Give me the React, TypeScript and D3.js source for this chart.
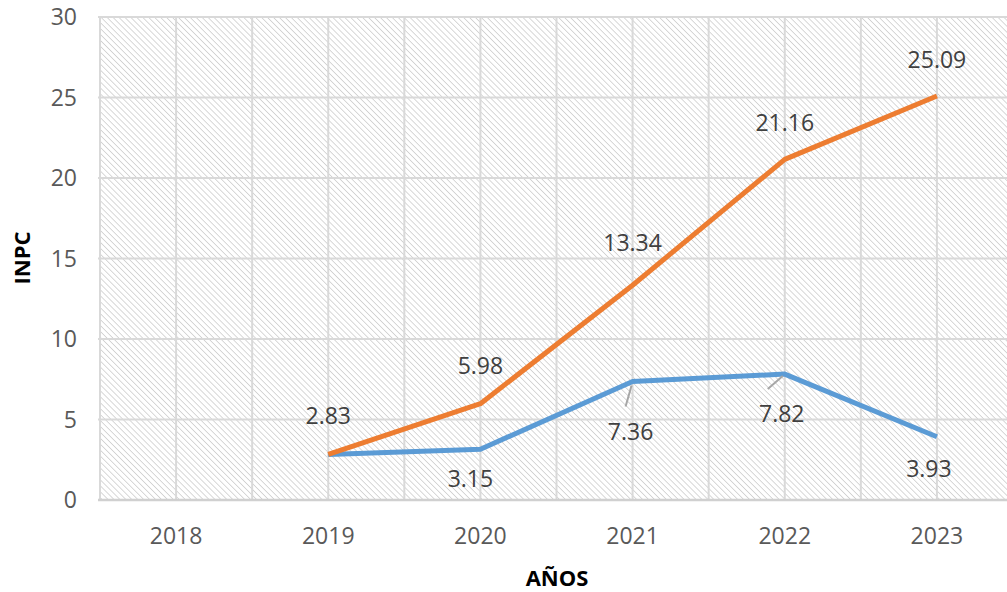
import * as d3 from "d3";

const years = ["2018", "2019", "2020", "2021", "2022", "2023"];
const orangeYears = ["2019", "2020", "2021", "2022", "2023"];
const orangeValues = [2.83, 5.98, 13.34, 21.16, 25.09];
const blueYears = ["2019", "2020", "2021", "2022", "2023"];
const blueValues = [2.83, 3.15, 7.36, 7.82, 3.93];
const yTicks = [0, 5, 10, 15, 20, 25, 30];

const W = 1007;
const H = 592;
const FONT = "'Open Sans', 'Liberation Sans', sans-serif";
const TEXT = "#595959";

export default function App() {
  const x = d3.scaleBand<string>().domain(years).range([100, 1013]);
  const cx = (d: string) => (x(d) ?? 0) + x.bandwidth() / 2;
  const y = d3.scaleLinear().domain([0, 30]).range([500, 17]);

  const line = d3
    .line<[string, number]>()
    .x((d) => cx(d[0]))
    .y((d) => y(d[1]));

  const orange = orangeYears.map((d, i) => [d, orangeValues[i]] as [string, number]);
  const blue = blueYears.map((d, i) => [d, blueValues[i]] as [string, number]);

  const vLines: number[] = [];
  years.forEach((d) => {
    vLines.push(x(d) ?? 0);
    vLines.push(cx(d));
  });
  vLines.push(x.range()[1]);

  // label offsets (dx, dy from the point)
  const orangeOff = [
    [0, -38],
    [0, -38],
    [0, -42],
    [0, -36],
    [0, -36],
  ];
  const blueOff: [number, number][] = [
    [0, 0],
    [-10, 30],
    [-2, 50],
    [-3, 40],
    [-8, 32],
  ];

  return (
    <svg
      width={W}
      height={H}
      style={{ position: "absolute", left: 0, top: 0, background: "#fff" }}
      fontFamily={FONT}
    >
      <defs>
        <pattern
          id="hatch"
          width={4.2}
          height={4.2}
          patternUnits="userSpaceOnUse"
          patternTransform="rotate(-45)"
        >
          <line x1={0} y1={0} x2={0} y2={4.2} stroke="#c4c4c4" strokeWidth={1.3} />
        </pattern>
      </defs>
      <rect x={100} y={y(30)} width={913} height={y(0) - y(30)} fill="url(#hatch)" />

      {yTicks.map((t) => (
        <line key={"h" + t} x1={98} x2={1013} y1={y(t)} y2={y(t)} stroke="#d9d9d9" strokeWidth={2} />
      ))}
      {vLines.map((v, i) => (
        <line key={"v" + i} x1={v} x2={v} y1={y(30)} y2={y(0)} stroke="#d9d9d9" strokeWidth={2} />
      ))}
      <line x1={98} x2={1013} y1={y(0)} y2={y(0)} stroke="#d0d0d0" strokeWidth={2.5} />

      {yTicks.map((t) => (
        <text key={"yt" + t} x={77} y={y(t)} dy="0.35em" textAnchor="end" fontSize={23} fill={TEXT}>
          {t}
        </text>
      ))}
      {years.map((d) => (
        <text key={"xt" + d} x={cx(d)} y={544} textAnchor="middle" fontSize={23} fill={TEXT}>
          {d}
        </text>
      ))}

      <text x={557} y={586} textAnchor="middle" fontSize={22} fontWeight="bold" fill="#000">
        AÑOS
      </text>
      <text
        transform={`translate(30,258) rotate(-90)`}
        textAnchor="middle"
        fontSize={22}
        fontWeight="bold"
        fill="#000"
      >
        INPC
      </text>

      <path d={line(blue) ?? ""} fill="none" stroke="#5b9bd5" strokeWidth={5} strokeLinejoin="round" />
      <path d={line(orange) ?? ""} fill="none" stroke="#ed7d31" strokeWidth={5} strokeLinejoin="round" />

      {/* leader lines */}
      <line x1={cx("2021") - 1} y1={y(7.36) + 4} x2={cx("2021") - 7} y2={y(7.36) + 25} stroke="#a6a6a6" strokeWidth={2} />
      <line x1={cx("2022") - 2} y1={y(7.82) + 2} x2={cx("2022") - 17} y2={y(7.82) + 15} stroke="#a6a6a6" strokeWidth={2} />

      {orange.map((d, i) => (
        <text
          key={"ol" + i}
          x={cx(d[0]) + orangeOff[i][0]}
          y={y(d[1]) + orangeOff[i][1]}
          dy="0.35em"
          textAnchor="middle"
          fontSize={23}
          fill="#404040"
        >
          {d[1].toFixed(2)}
        </text>
      ))}
      {blue.map((d, i) =>
        i === 0 ? null : (
          <text
            key={"bl" + i}
            x={cx(d[0]) + blueOff[i][0]}
            y={y(d[1]) + blueOff[i][1]}
            dy="0.35em"
            textAnchor="middle"
            fontSize={23}
            fill="#404040"
          >
            {d[1].toFixed(2)}
          </text>
        )
      )}
    </svg>
  );
}
